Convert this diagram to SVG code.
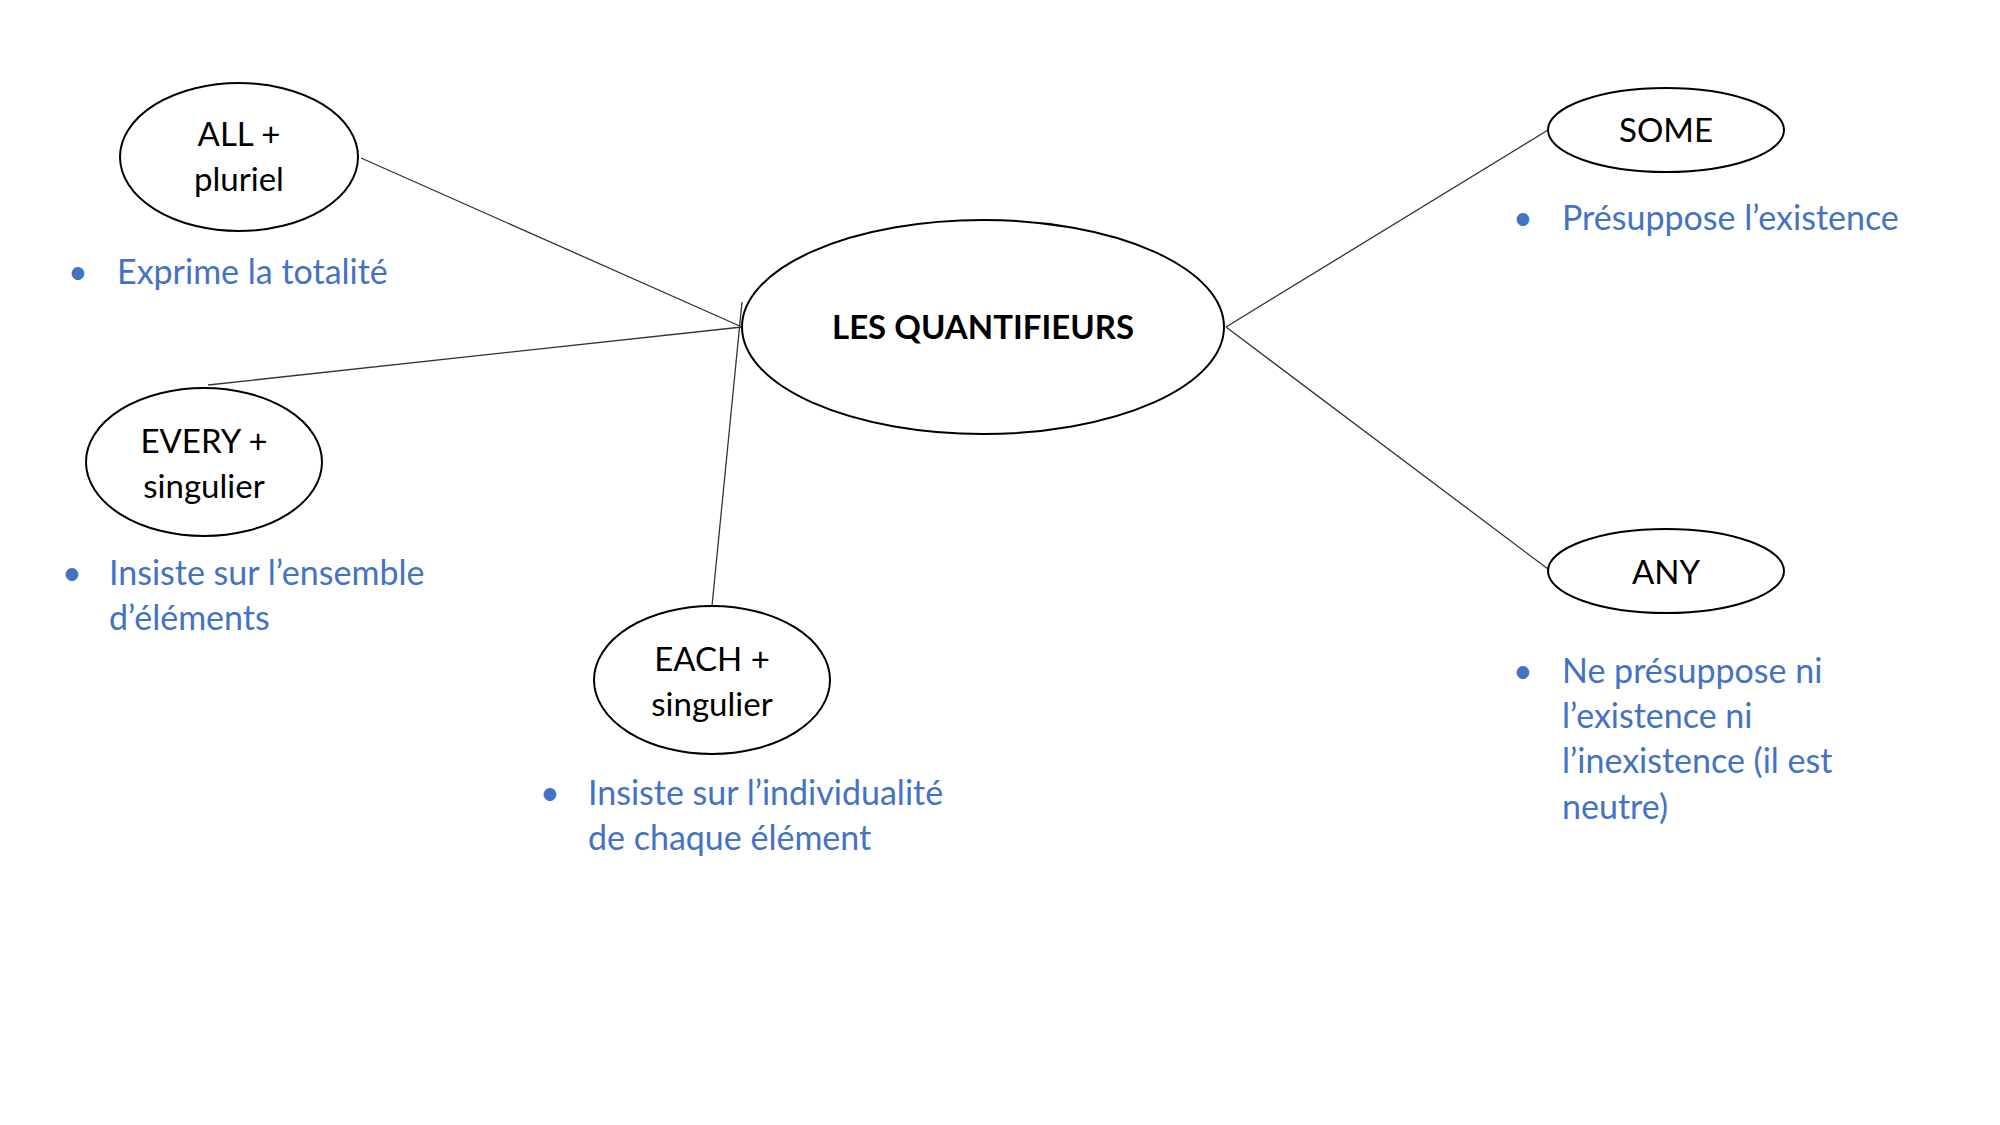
<svg xmlns="http://www.w3.org/2000/svg" width="2000" height="1125" viewBox="0 0 2000 1125">
<style>
.n{fill:#fff;stroke:#000;stroke-width:2}
.t{font-family:Lato,"Open Sans",sans-serif;font-size:33px;fill:#000;text-anchor:middle}
.b{font-family:Lato,"Open Sans",sans-serif;font-size:34px;fill:#4472C4}
.c{stroke:#333;stroke-width:1.3;fill:none}
</style>
<rect width="2000" height="1125" fill="#fff"/>
<g id="connectors">
<line class="c" x1="361" y1="158" x2="742" y2="327"/>
<line class="c" x1="208" y1="385" x2="742" y2="327"/>
<line class="c" x1="712" y1="606" x2="742" y2="302"/>
<line class="c" x1="1226" y1="327" x2="1548" y2="130"/>
<line class="c" x1="1226" y1="327" x2="1548" y2="569"/>
</g>
<g id="center"><ellipse class="n" cx="983" cy="327" rx="241" ry="107"/><text class="t" x="983" y="339" font-weight="bold">LES QUANTIFIEURS</text></g>
<g id="all"><ellipse class="n" cx="239" cy="157" rx="119" ry="74"/><text class="t" x="239" y="146">ALL +</text><text class="t" x="239" y="191">pluriel</text></g>
<g id="every"><ellipse class="n" cx="204" cy="462" rx="118" ry="74"/><text class="t" x="204" y="453">EVERY +</text><text class="t" x="204" y="498">singulier</text></g>
<g id="each"><ellipse class="n" cx="712" cy="680" rx="118" ry="74"/><text class="t" x="712" y="671">EACH +</text><text class="t" x="712" y="716">singulier</text></g>
<g id="some"><ellipse class="n" cx="1666" cy="130" rx="118" ry="42"/><text class="t" x="1666" y="142">SOME</text></g>
<g id="any"><ellipse class="n" cx="1666" cy="571" rx="118" ry="42"/><text class="t" x="1666" y="584">ANY</text></g>
<g id="notes">
<text class="b" x="68" y="284">•</text><text class="b" x="117" y="284">Exprime la totalité</text>
<text class="b" x="62" y="585">•</text><text class="b" x="109" y="585">Insiste sur l’ensemble</text><text class="b" x="109" y="630">d’éléments</text>
<text class="b" x="540" y="805">•</text><text class="b" x="588" y="805">Insiste sur l’individualité</text><text class="b" x="588" y="850">de chaque élément</text>
<text class="b" x="1513" y="230">•</text><text class="b" x="1562" y="230">Présuppose l’existence</text>
<text class="b" x="1513" y="683">•</text><text class="b" x="1562" y="683">Ne présuppose ni</text><text class="b" x="1562" y="728">l’existence ni</text><text class="b" x="1562" y="773">l’inexistence (il est</text><text class="b" x="1562" y="819">neutre)</text>
</g>
</svg>
